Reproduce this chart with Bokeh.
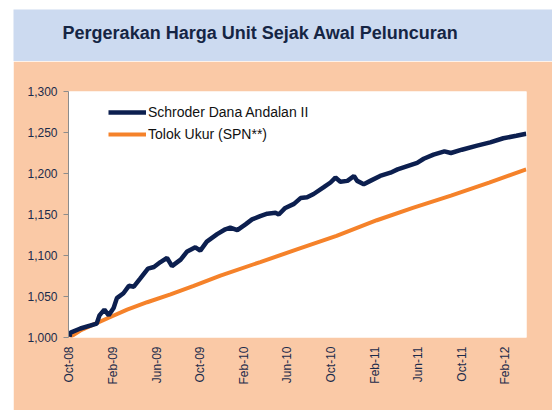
from bokeh.plotting import figure
from bokeh.layouts import column
from bokeh.models import Range1d, FixedTicker, NumeralTickFormatter, Legend, LegendItem
from bokeh.core.properties import value
from bokeh.embed import file_html
from bokeh.resources import INLINE
import math

# ---- data (months since Oct-08) ----
tick_months = [0, 4, 8, 12, 16, 20, 24, 28, 32, 36, 40]
tick_labels = ["Oct-08", "Feb-09", "Jun-09", "Oct-09", "Feb-10", "Jun-10",
               "Oct-10", "Feb-11", "Jun-11", "Oct-11", "Feb-12"]

fund_months = [0.0, 0.1, 1.0, 2.5, 2.75, 3.2, 3.6, 4.05, 4.35, 4.95, 5.45, 5.9,
               6.5, 7.2, 7.75, 8.35, 8.95, 9.4, 10.2, 10.8, 11.55, 12.0, 12.6,
               13.55, 14.3, 14.75, 15.4, 16.15, 16.75, 17.5, 18.15, 18.9, 19.2,
               19.8, 20.6, 21.2, 21.8, 22.4, 23.3, 23.95, 24.4, 24.85, 25.5,
               26.1, 26.4, 27.0, 27.6, 28.5, 29.45, 30.1, 31.0, 31.9, 32.5,
               33.4, 34.4, 35.0, 36.0, 37.4, 38.6, 39.8, 41.0, 41.9]
fund_values = [1001, 1006, 1011, 1017, 1027, 1034, 1027, 1036, 1048, 1054, 1063, 1062,
               1072, 1084, 1086, 1092, 1097, 1087, 1095, 1105, 1110, 1106, 1117,
               1126, 1132, 1134, 1131, 1138, 1144, 1148, 1151, 1152, 1150,
               1158, 1163, 1170, 1171, 1175, 1183, 1189, 1195, 1190, 1191,
               1197, 1191, 1187, 1191, 1197, 1201, 1205, 1209, 1213, 1218,
               1223, 1227, 1225, 1229, 1234, 1238, 1243, 1246, 1248.5]

bench_months = [0, 1.0, 2.23, 3.76, 5.29, 7.13, 9.27, 11.4, 13.85, 17.5, 21.0,
                24.5, 28.2, 31.5, 35.0, 38.5, 41.9]
bench_values = [1000, 1008.5, 1016, 1025, 1034, 1043, 1052.5, 1063, 1075.5, 1092,
                1108, 1124, 1143, 1158, 1173, 1189, 1205]

series_names = ["Schroder Dana Andalan II", "Tolok Ukur (SPN**)"]
title_text = "Pergerakan Harga Unit Sejak Awal Peluncuran"

# ---- styles ----
PEACH = "#FAC9A6"
BLUE_BAND = "#CCDAF0"
NAVY = "#0C1F4F"
ORANGE = "#F5822A"
TEXT = "#1B2B4B"
FONT = "Liberation Sans"

# title band
tf = figure(width=539, height=52, toolbar_location=None, output_backend="svg",
            x_range=Range1d(0, 539), y_range=Range1d(0, 52),
            x_axis_location=None, y_axis_location=None,
            min_border_left=0, min_border_right=0, min_border_top=0,
            min_border_bottom=0, outline_line_color=None,
            background_fill_color=BLUE_BAND, border_fill_color=BLUE_BAND,
            margin=(9, 0, 0, 13))
tf.frame_align = False
tf.grid.visible = False
tf.text(x=[247], y=[29], text=[title_text], text_font=value(FONT),
        text_font_size="18px", text_font_style="bold", text_color="#152544",
        text_align="center", text_baseline="middle")

# main chart
p = figure(width=539, height=349, toolbar_location=None, output_backend="svg",
           x_range=Range1d(-0.09, 41.93), y_range=Range1d(1000, 1300),
           min_border_left=55, min_border_right=26, min_border_top=30,
           min_border_bottom=73, outline_line_color=None,
           background_fill_color="white", border_fill_color=PEACH,
           margin=(0, 0, 0, 13))
p.frame_align = False
p.grid.visible = False

r_bench = p.line(bench_months, bench_values, line_color=ORANGE, line_width=4)
r_fund = p.line(fund_months, fund_values, line_color=NAVY, line_width=4.5)

# axes
yax = p.yaxis[0]
yax.ticker = FixedTicker(ticks=[1000, 1050, 1100, 1150, 1200, 1250, 1300])
yax.formatter = NumeralTickFormatter(format="0,0")
yax.axis_line_color = "#8C8C8C"
yax.major_tick_line_color = "#8C8C8C"
yax.major_tick_out = 5
yax.major_tick_in = 0
yax.minor_tick_line_color = None
yax.major_label_standoff = 6
yax.major_label_text_font = FONT
yax.major_label_text_font_size = "12px"
yax.major_label_text_color = TEXT

xax = p.xaxis[0]
xax.ticker = FixedTicker(ticks=tick_months)
xax.major_label_overrides = {m: l for m, l in zip(tick_months, tick_labels)}
xax.axis_line_color = None
xax.major_tick_line_color = None
xax.minor_tick_line_color = None
xax.major_tick_out = 0
xax.major_label_orientation = math.pi / 2
xax.major_label_standoff = 9
xax.major_label_text_font = FONT
xax.major_label_text_font_size = "12px"
xax.major_label_text_color = TEXT

legend = Legend(items=[LegendItem(label=series_names[0], renderers=[r_fund]),
                       LegendItem(label=series_names[1], renderers=[r_bench])],
                location=(40, 193), padding=0, margin=0, spacing=2,
                glyph_width=38, glyph_height=20, label_height=20,
                label_standoff=2, border_line_color=None,
                background_fill_alpha=0,
                label_text_font=FONT, label_text_font_size="14px",
                label_text_color="#111111")
p.add_layout(legend)

layout = column(tf, p, spacing=0)
open("out.html", "w").write(file_html(layout, INLINE))
